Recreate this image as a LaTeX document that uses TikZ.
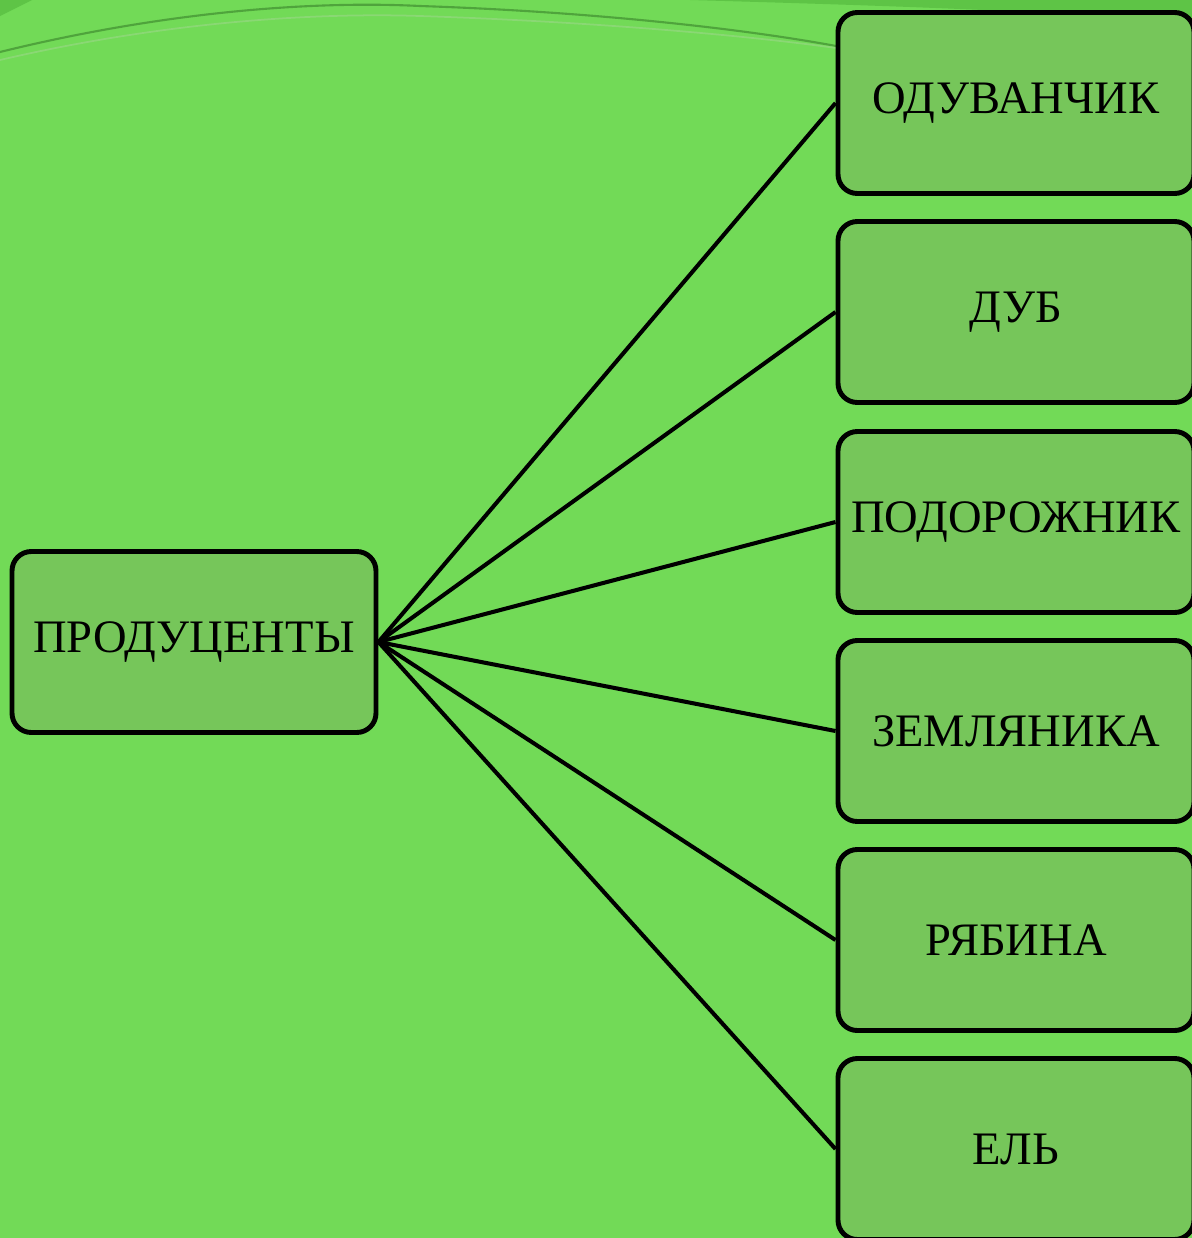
\documentclass[tikz,border=0pt]{standalone}
\usepackage{fontspec}
\setmainfont{Liberation Serif}
\definecolor{bg}{HTML}{72DA57}
\definecolor{bgdark}{HTML}{5EC446}
\definecolor{boxfill}{HTML}{76C65A}
\definecolor{curveA}{HTML}{4FA43C}
\definecolor{curveB}{HTML}{8AD874}
\begin{document}
\begin{tikzpicture}[x=0.02cm,y=-0.02cm,
  box/.style={draw=black,line width=2.8pt,fill=boxfill,rounded corners=11pt,
    minimum width=356*0.02cm,minimum height=181*0.02cm,inner sep=0pt,
    font=\fontsize{26.5}{30}\selectfont},
  link/.style={draw=black,line width=2.3pt}]
\useasboundingbox (0,0) rectangle (1192,1238);
\fill[bg] (0,0) rectangle (1192,1238);
\fill[bgdark] (0,0) -- (32,0) -- (0,16) -- cycle;
\fill[bgdark] (690,0) .. controls (900,6) and (1080,12) .. (1192,24) -- (1192,0) -- cycle;
\draw[curveA,line width=1.2pt] (0,52) .. controls (150,15) and (300,0) .. (420,6) .. controls (600,12) and (750,30) .. (836,46);
\draw[curveB,line width=1pt] (0,60) .. controls (150,25) and (300,12) .. (420,16) .. controls (600,22) and (750,36) .. (836,48);
\node[box,minimum width=364*0.02cm] (p) at (194,642) {ПРОДУЦЕНТЫ};
\node[box] (a) at (1016,103) {ОДУВАНЧИК};
\node[box] (b) at (1016,312) {ДУБ};
\node[box] (c) at (1016,522) {ПОДОРОЖНИК};
\node[box] (d) at (1016,731) {ЗЕМЛЯНИКА};
\node[box] (e) at (1016,940) {РЯБИНА};
\node[box] (f) at (1016,1149) {ЕЛЬ};
\foreach \t in {a,b,c,d,e,f}
  \draw[link] (p.east) -- (\t.west);
\end{tikzpicture}
\end{document}
